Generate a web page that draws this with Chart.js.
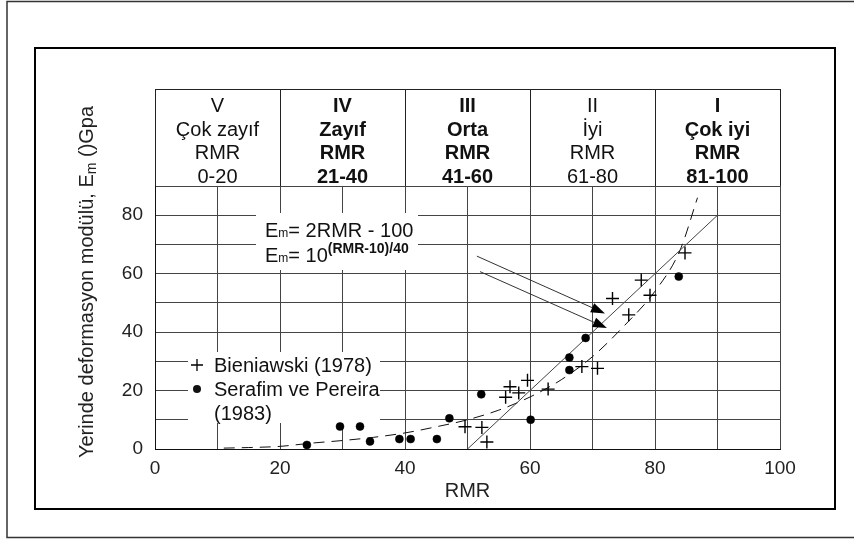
<!DOCTYPE html>
<html>
<head>
<meta charset="utf-8">
<script src="https://cdn.jsdelivr.net/npm/chart.js@4.4.0/dist/chart.umd.min.js"></script>
<style>
  html, body { margin: 0; padding: 0; background: #fff; }
  #wrap { width: 854px; height: 540px; }
</style>
</head>
<body>
<div id="wrap"><canvas id="chart" width="854" height="540"></canvas></div>
<script>
// kaya sinifi tablosu (RMR)
const classNums = ['V', 'IV', 'III', 'II', 'I']
const classNames = ['Çok zayıf', 'Zayıf', 'Orta', 'İyi', 'Çok iyi']
const classRanges = ['0-20', '21-40', '41-60', '61-80', '81-100']
const classBold = [false, true, true, false, true]
const classBounds = [0, 20, 40, 60, 80, 100]

// Bieniawski (1978)
const bieniawskiRMR = [49.6, 52.3, 53.1, 56.1, 56.8, 58.2, 59.6, 62.9, 68.3, 70.8, 73.2, 75.8, 77.8, 79.2, 84.8]
const bieniawskiEm  = [7.6, 7.4, 2.4, 17.7, 21.3, 19.2, 23.5, 20.5, 28.2, 27.6, 51.5, 45.9, 57.8, 52.6, 67.1]

// Serafim ve Pereira (1983)
const serafimRMR = [24.3, 29.6, 32.8, 34.4, 39.1, 40.9, 45.1, 47.1, 52.2, 60.1, 66.3, 66.3, 68.9, 83.8]
const serafimEm  = [1.4, 7.7, 7.7, 2.6, 3.4, 3.4, 3.4, 10.5, 18.7, 10.0, 27.0, 31.3, 38.0, 59.0]

// Em = 2RMR - 100
const lineRMR = [50, 90]
const lineEm  = [0, 80]

// Em = 10^((RMR-10)/40), egriden okunan noktalar
const curveRMR = [11, 15, 20, 25, 30, 35, 40, 45, 50, 55, 60, 65, 70, 75, 80, 84, 86.8]
const curveEm  = [0.3, 0.5, 0.9, 2.0, 2.9, 4.0, 5.5, 7.6, 10, 13.3, 17.8, 23.7, 31.6, 42, 54, 68, 86]

// oklar (RMR, Em)
const arrowFrom = [[51.5, 66.0], [52.0, 60.7]]
const arrowTo   = [[72.0, 46.4], [72.3, 41.4]]

const legendLines = [['Bieniawski (1978)'], ['Serafim ve Pereira', '(1983)']]
const yTitle = ['Yerinde deformasyon modülü, E', 'm', ' ()Gpa']

const FONT = 'Arial, "Liberation Sans", Helvetica, sans-serif'

const toXY = (xs, ys) => xs.map((v, i) => ({x: v, y: ys[i]}))

const framePlugin = {
    id: 'frames',
    beforeDraw(chart) {
        const ctx = chart.ctx
        ctx.save()
        ctx.fillStyle = '#fff'
        ctx.fillRect(0, 0, chart.width, chart.height)
        ctx.strokeStyle = '#333'
        ctx.lineWidth = 1.5
        ctx.beginPath()
        ctx.moveTo(chart.width, 1.5)
        ctx.lineTo(7, 1.5)
        ctx.lineTo(7, 537.5)
        ctx.lineTo(chart.width, 537.5)
        ctx.stroke()
        ctx.strokeStyle = '#000'
        ctx.lineWidth = 2
        ctx.strokeRect(35, 48, 800, 461)
        ctx.restore()
    }
}

const tablePlugin = {
    id: 'rmrTable',
    afterDraw(chart) {
        const {ctx, chartArea: ca, scales: {x}} = chart
        const top = ca.top - 97
        const px = v => Math.round(x.getPixelForValue(v)) + 0.5
        ctx.save()
        ctx.strokeStyle = '#222'
        ctx.lineWidth = 1
        ctx.beginPath()
        ctx.moveTo(px(0), top + 0.5)
        ctx.lineTo(px(100), top + 0.5)
        classBounds.forEach(b => {
            ctx.moveTo(px(b), top)
            ctx.lineTo(px(b), ca.top)
        })
        ctx.stroke()

        ctx.fillStyle = '#111'
        ctx.textAlign = 'center'
        ctx.textBaseline = 'alphabetic'
        classNums.forEach((num, i) => {
            const cx = (x.getPixelForValue(classBounds[i]) + x.getPixelForValue(classBounds[i + 1])) / 2
            ctx.font = (classBold[i] ? 'bold ' : '') + '20px ' + FONT
            const lines = [num, classNames[i], 'RMR', classRanges[i]]
            lines.forEach((t, j) => ctx.fillText(t, cx, top + 23 + 23.5 * j))
        })
        ctx.restore()
    }
}

// parca parca yazi (alt/ust simge icin)
const drawParts = (ctx, parts, x0, y0) => {
    let x = x0
    parts.forEach(p => {
        ctx.font = p.font
        ctx.fillText(p.t, x, y0 + (p.dy || 0))
        x += ctx.measureText(p.t).width
    })
}

const notesPlugin = {
    id: 'notes',
    beforeDatasetsDraw(chart) {
        const {ctx, chartArea: ca} = chart
        ctx.save()
        // denklem kutusu
        ctx.fillStyle = '#fff'
        ctx.fillRect(ca.left + 101, ca.top + 27, 162, 57)
        ctx.fillStyle = '#111'
        ctx.textAlign = 'left'
        ctx.textBaseline = 'alphabetic'
        const f20 = '20px ' + FONT, f12 = '12px ' + FONT, fb14 = 'bold 14px ' + FONT
        const ex = ca.left + 110
        drawParts(ctx, [{t: 'E', font: f20}, {t: 'm', font: f12}, {t: '= 2RMR - 100', font: f20}], ex, ca.top + 51)
        drawParts(ctx, [{t: 'E', font: f20}, {t: 'm', font: f12}, {t: '= 10', font: f20}, {t: '(RMR-10)/40', font: fb14, dy: -9}], ex, ca.top + 76)

        // lejant
        ctx.fillStyle = '#fff'
        ctx.fillRect(ca.left + 33, ca.bottom - 97, 192, 71)
        const lx = ca.left + 42
        let ly = ca.bottom - 84
        ctx.fillStyle = '#111'
        ctx.strokeStyle = '#000'
        ctx.font = f20
        legendLines.forEach((lines, i) => {
            if (i === 0) {
                ctx.lineWidth = 1.3
                ctx.beginPath()
                ctx.moveTo(lx - 6, ly); ctx.lineTo(lx + 6, ly)
                ctx.moveTo(lx, ly - 6); ctx.lineTo(lx, ly + 6)
                ctx.stroke()
            } else {
                ctx.beginPath()
                ctx.arc(lx, ly, 4, 0, Math.PI * 2)
                ctx.fill()
            }
            lines.forEach(t => {
                ctx.fillText(t, lx + 17, ly + 7)
                ly += 24
            })
        })

        // y ekseni basligi
        ctx.translate(93, 282)
        ctx.rotate(-Math.PI / 2)
        const parts = [{t: yTitle[0], font: f20}, {t: yTitle[1], font: '14px ' + FONT, dy: 3}, {t: yTitle[2], font: f20}]
        let w = 0
        parts.forEach(p => { ctx.font = p.font; w += ctx.measureText(p.t).width })
        ctx.fillStyle = '#222'
        drawParts(ctx, parts, -w / 2, 0)
        ctx.restore()
    },
    afterDatasetsDraw(chart) {
        const {ctx, scales: {x, y}} = chart
        ctx.save()
        ctx.strokeStyle = '#333'
        ctx.fillStyle = '#000'
        ctx.lineWidth = 1
        arrowFrom.forEach((a, i) => {
            const x0 = x.getPixelForValue(a[0]), y0 = y.getPixelForValue(a[1])
            const x1 = x.getPixelForValue(arrowTo[i][0]), y1 = y.getPixelForValue(arrowTo[i][1])
            const ang = Math.atan2(y1 - y0, x1 - x0)
            const len = 14, hw = 5
            const bx = x1 - len * Math.cos(ang), by = y1 - len * Math.sin(ang)
            ctx.beginPath()
            ctx.moveTo(x0, y0)
            ctx.lineTo(bx, by)
            ctx.stroke()
            ctx.beginPath()
            ctx.moveTo(x1, y1)
            ctx.lineTo(bx + hw * Math.sin(ang), by - hw * Math.cos(ang))
            ctx.lineTo(bx - hw * Math.sin(ang), by + hw * Math.cos(ang))
            ctx.closePath()
            ctx.fill()
        })
        ctx.restore()
    }
}

const chart = new Chart(document.getElementById('chart'), {
    type: 'scatter',
    data: {
        datasets: [
            {
                label: 'Bieniawski (1978)',
                data: toXY(bieniawskiRMR, bieniawskiEm),
                pointStyle: 'cross',
                pointRadius: 6.5,
                borderColor: '#000',
                borderWidth: 1.4,
            },
            {
                label: 'Serafim ve Pereira (1983)',
                data: toXY(serafimRMR, serafimEm),
                pointStyle: 'circle',
                pointRadius: 4,
                backgroundColor: '#000',
                borderColor: '#000',
                borderWidth: 0.5,
            },
            {
                label: 'Em = 2RMR - 100',
                data: toXY(lineRMR, lineEm),
                showLine: true,
                pointRadius: 0,
                borderColor: '#444',
                borderWidth: 1,
            },
            {
                label: 'Em = 10^(RMR-10)/40',
                data: toXY(curveRMR, curveEm),
                showLine: true,
                pointRadius: 0,
                borderColor: '#111',
                borderWidth: 1,
                borderDash: [11, 7],
                cubicInterpolationMode: 'monotone',
            }
        ]
    },
    options: {
        responsive: false,
        animation: false,
        devicePixelRatio: 1,
        layout: {
            padding: {left: 115, top: 186, right: 74, bottom: 31}
        },
        scales: {
            x: {
                type: 'linear',
                min: 0,
                max: 100,
                afterFit: s => { s.height = 60 },
                ticks: {
                    stepSize: 10,
                    autoSkip: false,
                    maxRotation: 0,
                    padding: 8,
                    color: '#222',
                    font: {size: 19, family: FONT},
                    callback: v => v % 20 === 0 ? v : ''
                },
                grid: {color: '#444', lineWidth: 1, drawTicks: false},
                border: {color: '#111', width: 1},
                title: {
                    display: true,
                    text: 'RMR',
                    color: '#222',
                    font: {size: 20, family: FONT},
                    padding: {top: 0, bottom: 6}
                }
            },
            y: {
                min: 0,
                max: 90,
                afterFit: s => { s.width = 40 },
                ticks: {
                    stepSize: 10,
                    autoSkip: false,
                    padding: 12,
                    color: '#222',
                    font: {size: 19, family: FONT},
                    callback: v => (v % 20 === 0 && v < 90) ? v : ''
                },
                grid: {color: '#444', lineWidth: 1, drawTicks: false},
                border: {color: '#111', width: 1}
            }
        },
        plugins: {
            legend: {display: false},
            tooltip: {enabled: false}
        }
    },
    plugins: [framePlugin, tablePlugin, notesPlugin]
})
</script>
</body>
</html>
